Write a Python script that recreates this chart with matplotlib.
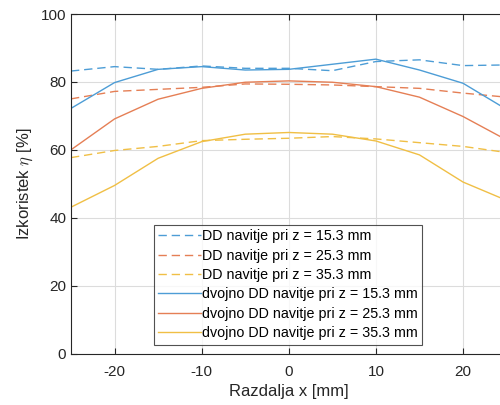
import matplotlib
matplotlib.use('Agg')
import matplotlib.pyplot as plt

plt.rcParams['font.family'] = ['Liberation Sans', 'DejaVu Sans']
plt.rcParams['mathtext.fontset'] = 'cm'
plt.rcParams['axes.unicode_minus'] = False

# podatki
x = [-25, -20, -15, -10, -5, 0, 5, 10, 15, 20, 25]
dd_153 = [83.2, 84.5, 83.7, 84.7, 84.0, 84.0, 83.3, 86.0, 86.5, 84.8, 85.0]
dd_253 = [75.0, 77.2, 77.8, 78.4, 79.4, 79.3, 79.1, 78.6, 78.1, 76.7, 75.5]
dd_353 = [57.7, 59.8, 61.0, 62.7, 63.1, 63.4, 63.9, 63.2, 62.1, 61.0, 59.2]
ddd_153 = [72.2, 79.8, 83.7, 84.5, 83.5, 83.7, 85.2, 86.7, 83.5, 79.6, 71.9]
ddd_253 = [60.0, 69.1, 74.9, 78.1, 79.9, 80.3, 79.9, 78.6, 75.5, 69.8, 62.9]
ddd_353 = [43.1, 49.5, 57.5, 62.4, 64.6, 65.1, 64.6, 62.6, 58.5, 50.5, 45.1]

labels = ['DD navitje pri z = 15.3 mm', 'DD navitje pri z = 25.3 mm',
          'DD navitje pri z = 35.3 mm', 'dvojno DD navitje pri z = 15.3 mm',
          'dvojno DD navitje pri z = 25.3 mm', 'dvojno DD navitje pri z = 35.3 mm']
colors = ['#4d9dd6', '#e57f55', '#f0bf45']

fig = plt.figure(figsize=(5, 4.05), dpi=100)
ax = fig.add_axes([71 / 500, 1 - 353.5 / 405, 435.6 / 500, 339.5 / 405])

for ys, c, lab in zip([dd_153, dd_253, dd_353], colors, labels[:3]):
    ax.plot(x, ys, '--', color=c, lw=1.0, dashes=(6, 3.5), label=lab)
for ys, c, lab in zip([ddd_153, ddd_253, ddd_353], colors, labels[3:]):
    ax.plot(x, ys, '-', color=c, lw=1.0, label=lab)

ax.set_xlim(-25, 25)
ax.set_ylim(0, 100)
ax.set_xticks([-20, -10, 0, 10, 20])
ax.set_yticks([0, 20, 40, 60, 80, 100])
ax.grid(True, color='#dcdcdc', lw=0.8)
ax.set_axisbelow(True)
ax.tick_params(direction='in', length=4, colors='#262626', labelsize=11,
               top=True, right=True, width=0.8)
ax.tick_params(axis='x', pad=8)
for s in ax.spines.values():
    s.set_color('#262626')
    s.set_linewidth(0.8)

ax.set_xlabel('Razdalja x [mm]', fontsize=12, color='#262626', labelpad=4)
ax.set_ylabel(r'Izkoristek $\eta$ [%]', fontsize=12, color='#262626', labelpad=4)

leg = ax.legend(loc='upper left', bbox_to_anchor=(0.19, 0.379), fontsize=10.3,
                frameon=True, fancybox=False, borderpad=0.3, labelspacing=0.38,
                handlelength=3.0, handletextpad=0.1, borderaxespad=0)
leg.get_frame().set_edgecolor('#262626')
leg.get_frame().set_linewidth(0.8)

fig.savefig('out.png', dpi=100, facecolor='white')
